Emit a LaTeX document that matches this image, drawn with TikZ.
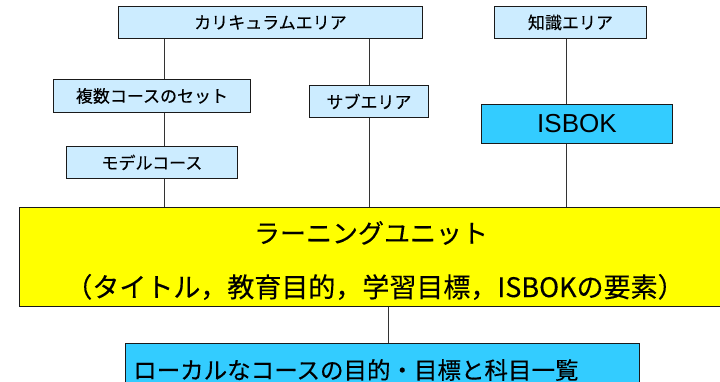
\documentclass[tikz,border=0pt]{standalone}
\usepackage{fontspec}
\newfontfamily\jp[FakeBold=0.3]{Noto Sans CJK JP}
\newfontfamily\arial{Liberation Sans}
\definecolor{lblue}{HTML}{CCECFF}
\definecolor{cyanbox}{HTML}{33CCFF}
\definecolor{ylw}{HTML}{FFFF00}
\definecolor{edge}{HTML}{1A1A1A}
\definecolor{conn}{HTML}{333333}
\tikzset{
  boxbase/.style={draw=edge, line width=0.9pt, rectangle, anchor=north west, inner sep=0pt, text=black},
  smallbox/.style={boxbase, fill=lblue, font=\jp\fontsize{17}{19}\selectfont},
  cyanb/.style={boxbase, fill=cyanbox},
  ybox/.style={boxbase, fill=ylw},
  conline/.style={draw=conn, line width=0.8pt},
  plain/.style={inner sep=0pt, text=black}
}
\begin{document}
\begin{tikzpicture}[x=1pt,y=-1pt]
\useasboundingbox (0,0) rectangle (720,382);
% boxes
\node[smallbox, minimum width=304pt, minimum height=32pt] (curr) at (118,6) {カリキュラムエリア};
\node[smallbox, minimum width=152pt, minimum height=32pt] (know) at (494,6) {知識エリア};
\node[smallbox, minimum width=197pt, minimum height=33pt] (multi) at (53,79) {複数コースのセット};
\node[smallbox, minimum width=171pt, minimum height=32pt] (model) at (66,146) {モデルコース};
\node[smallbox, minimum width=119pt, minimum height=32pt] (sub) at (309,85) {サブエリア};
\node[cyanb, minimum width=191pt, minimum height=39pt, font=\arial\fontsize{26}{28}\selectfont] (isbok) at (481,104) {ISBOK};
\node[ybox, minimum width=705pt, minimum height=99pt] (lu) at (19,207) {};
\node[cyanb, minimum width=514pt, minimum height=52pt] (local) at (125,343) {};
% texts
\node[plain, font=\jp\fontsize{26}{28}\selectfont] (lut) at (371,233) {ラーニングユニット};
\node[plain, font=\jp\fontsize{27}{29}\selectfont] (lud) at (375,287) {（タイトル，教育目的，学習目標，ISBOKの要素）};
\node[plain, anchor=west, font=\jp\fontsize{23.5}{26}\selectfont] (localt) at (133,370) {ローカルなコースの目的・目標と科目一覧};
% connector x positions
\coordinate (xa) at (164,0);
\coordinate (xb) at (566,0);
\coordinate (xc) at (388,0);
% connectors
\draw[conline] (xa |- curr.south) -- (xa |- multi.north);
\draw[conline] (xa |- multi.south) -- (xa |- model.north);
\draw[conline] (xa |- model.south) -- (xa |- lu.north);
\draw[conline] (curr.south -| sub.north) -- (sub.north);
\draw[conline] (sub.south) -- (lu.north -| sub.south);
\draw[conline] (xb |- know.south) -- (xb |- isbok.north);
\draw[conline] (xb |- isbok.south) -- (xb |- lu.north);
\draw[conline] (xc |- lu.south) -- (xc |- local.north);
\end{tikzpicture}
\end{document}
